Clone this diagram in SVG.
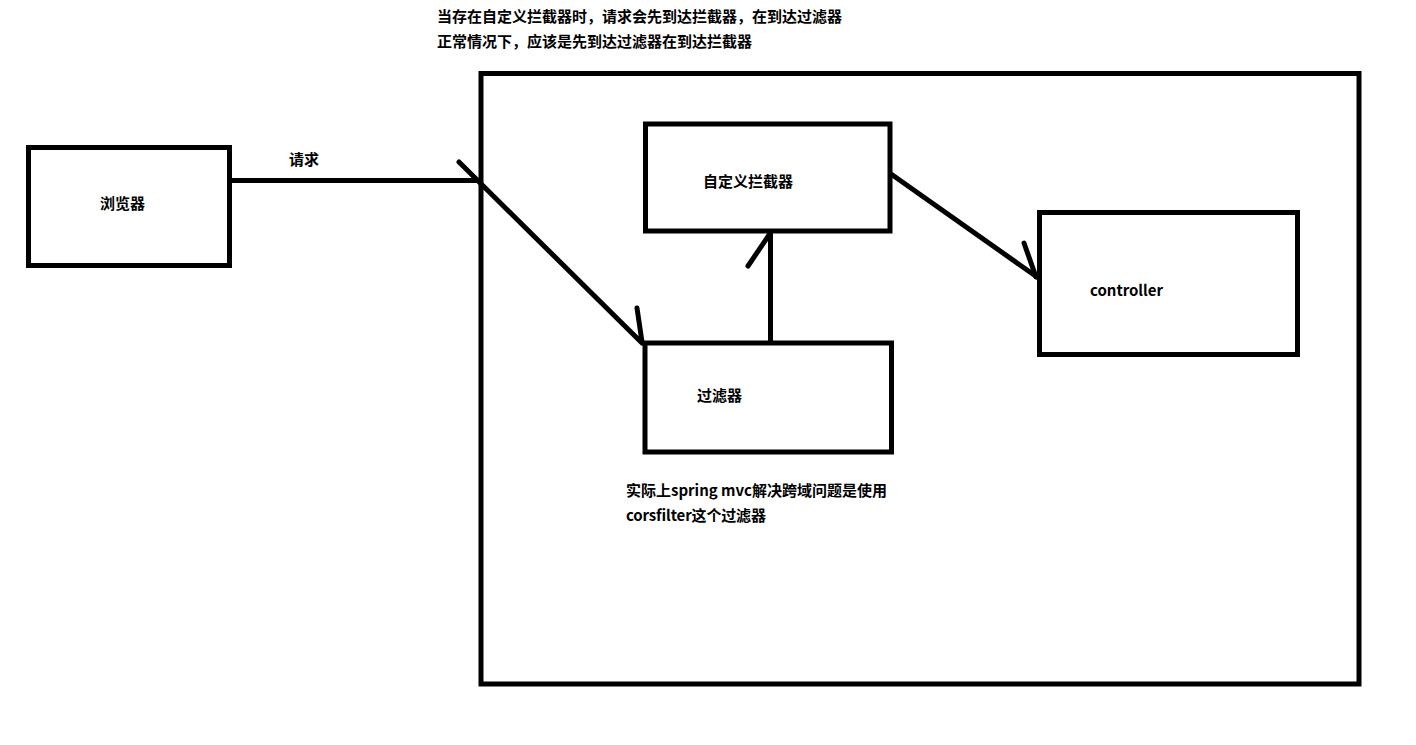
<svg xmlns="http://www.w3.org/2000/svg" width="1416" height="745" viewBox="0 0 1416 745">
<style>
.box{fill:none;stroke:#000;stroke-width:5}
.ln{fill:none;stroke:#000;stroke-width:5;stroke-linecap:round}
.t{font-family:"Microsoft YaHei","Noto Sans CJK SC","Noto Sans",sans-serif;font-size:15px;font-weight:bold;fill:#000}
</style>
<rect width="1416" height="745" fill="#fff"/>
<g id="title">
<text class="t" x="437" y="22" textLength="405">当存在自定义拦截器时，请求会先到达拦截器，在到达过滤器</text>
<text class="t" x="437" y="47" textLength="315">正常情况下，应该是先到达过滤器在到达拦截器</text>
</g>
<g id="container"><rect class="box" x="481" y="73.5" width="878" height="610.5"/></g>
<g id="browser"><rect class="box" x="28.5" y="147.5" width="201" height="118"/><text class="t" x="100" y="209">浏览器</text></g>
<g id="interceptor"><rect class="box" x="645.5" y="124" width="244.5" height="107"/><text class="t" x="703" y="187">自定义拦截器</text></g>
<g id="filter"><rect class="box" x="645" y="343" width="246.5" height="109"/><text class="t" x="697" y="401">过滤器</text></g>
<g id="controller"><rect class="box" x="1039.5" y="212.5" width="258" height="142"/><text class="t" x="1090" y="296" textLength="73">controller</text></g>
<g id="note">
<text class="t" x="626" y="496" textLength="261">实际上spring mvc解决跨域问题是使用</text>
<text class="t" x="626" y="521" textLength="140">corsfilter这个过滤器</text>
</g>
<g id="connectors">
<line class="box" x1="232" y1="180.5" x2="481" y2="180.5"/>
<text class="t" x="289" y="165">请求</text>
<line class="ln" x1="459" y1="162" x2="642" y2="343"/>
<line class="ln" x1="637" y1="308" x2="642" y2="342"/>
<line class="box" x1="770.5" y1="341" x2="770.5" y2="233"/>
<line class="ln" x1="748" y1="266" x2="769" y2="235"/>
<line class="ln" x1="891" y1="174" x2="1037" y2="277"/>
<line class="ln" x1="1024" y1="243" x2="1036" y2="277"/>
</g>
</svg>
